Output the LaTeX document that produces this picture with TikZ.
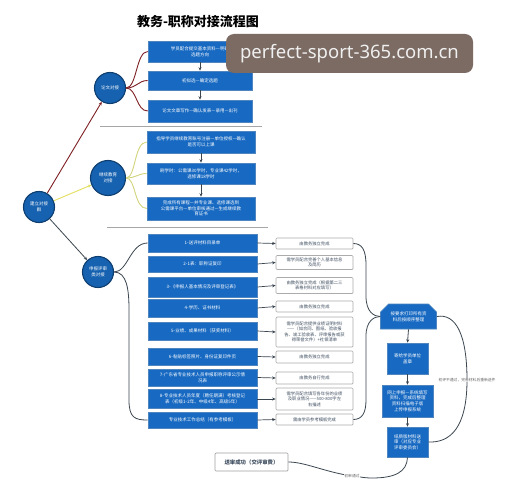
\documentclass[tikz,border=0pt]{standalone}
\usepackage{fontspec}
\setmainfont{Noto Sans CJK SC}
\newfontfamily\wmfont{Noto Sans}
\usetikzlibrary{arrows.meta,shapes.misc}
\definecolor{bblue}{HTML}{1769C2}
\definecolor{bedge}{HTML}{4F86BF}
\definecolor{cblue}{HTML}{1762B0}
\definecolor{cedge}{HTML}{0E3E70}
\definecolor{redc}{HTML}{7E2024}
\definecolor{yelc}{HTML}{E3DF5E}
\definecolor{yelg}{HTML}{D2D47C}
\definecolor{slate}{HTML}{3B4650}
\definecolor{wtext}{HTML}{3F4E60}
\definecolor{wmbg}{HTML}{7B6B63}
\begin{document}
\begin{tikzpicture}[x=1pt,y=-1pt,
  bluebox/.style={draw=bedge, line width=0.6pt, fill=bblue, text=white, align=center,
    inner sep=1pt, font=\fontsize{4.5}{5.6}\selectfont},
  whitebox/.style={draw=gray!65, line width=0.7pt, fill=white, text=wtext, align=center,
    rounded corners=1pt, inner sep=1pt, font=\fontsize{4.3}{5.4}\selectfont},
  circ/.style={circle, draw=cedge, line width=1.1pt, fill=cblue, text=white, align=center,
    inner sep=0pt, minimum size=31pt, font=\fontsize{4.5}{5.6}\selectfont},
  redline/.style={draw=redc, line width=0.9pt},
  yelline/.style={draw=yelg, line width=0.9pt},
  slateline/.style={draw=slate, line width=0.8pt},
  arr/.style={-{Stealth[length=3.5pt,width=3pt]}},
  sep/.style={draw=gray!70, line width=0.8pt},
  lbl/.style={fill=white, inner sep=0.6pt, text=gray!80!black, font=\fontsize{3.8}{4.6}\selectfont}
]
\useasboundingbox[fill=white] (0,0) rectangle (506,500);

% title
\node[font=\fontsize{13}{15}\selectfont\bfseries, text=black] (title) at (198,22) {教务-职称对接流程图};

% circles
\node[circ] (root) at (39,207) {建立对接\\群};
\node[circ] (lw) at (110,88) {论文对接};
\node[circ, minimum size=35pt] (jx) at (108,178) {继续教育\\对接};
\node[circ] (sb) at (98,272) {申报评审\\类对接};

% section 1
\node[bluebox, minimum width=104pt, minimum height=21pt, text width=96pt] (s1a) at (200,51.5) {学员配合提交基本资料—明确\\选题方向};
\node[bluebox, minimum width=104pt, minimum height=19pt, text width=96pt] (s1b) at (200,80.5) {初拟选—确定选题};
\node[bluebox, minimum width=104pt, minimum height=22pt, text width=96pt] (s1c) at (200,111) {论文文章写作—确认发表—录用—出刊};
\draw[slateline, arr] (s1a.south) -- (s1b.north);
\draw[slateline, arr] (s1b.south) -- (s1c.north);
\coordinate (sp1a) at (100,126); \coordinate (sp1b) at (262,126);
\draw[sep] (sp1a) -- (sp1b);

% section 2
\node[bluebox, minimum width=108pt, minimum height=22pt, text width=100pt] (s2a) at (201,142) {指导学员继续教育账号注册—单位授权—确认\\是否可以上课};
\node[bluebox, minimum width=108pt, minimum height=21pt, text width=100pt] (s2b) at (201,173.5) {刷学时：公需课30学时，专业课42学时，\\选修课18学时};
\node[bluebox, minimum width=108pt, minimum height=23pt, text width=100pt] (s2c) at (201,208.5) {完成所有课程—并专业课、选修课选到\\公需课平台—单位审核通过—生成继续教\\育证书};
\draw[slateline, arr] (s2a.south) -- (s2b.north);
\draw[slateline, arr] (s2b.south) -- (s2c.north);
\coordinate (sp2a) at (107,227); \coordinate (sp2b) at (268,227);
\draw[sep] (sp2a) -- (sp2b);

% section 3 left boxes
\tikzset{lbox/.style={bluebox, minimum width=109pt, text width=101pt}}
\node[lbox, minimum height=18pt] (l1) at (202.5,243) {1-送评材料目录单};
\node[lbox, minimum height=16pt] (l2) at (202.5,264) {2-1表：职称证复印};
\node[lbox, minimum height=20pt] (l3) at (202.5,287) {3-《申报人基本情况及评审登记表》};
\node[lbox, minimum height=18pt] (l4) at (202.5,308) {4-学历、证书材料};
\node[lbox, minimum height=18pt] (l5) at (202.5,331) {5-业绩、成果材料（获奖材料）};
\node[lbox, minimum height=17pt] (l6) at (202.5,356.5) {6-粘贴标签照片、身份证复印件页};
\node[lbox, minimum height=17pt] (l7) at (202.5,377.5) {7-广东省专业技术人员申报职称评审公示情\\况表};
\node[lbox, minimum height=19pt] (l8) at (202.5,399) {8-专业技术人员年度（聘任期满）考核登记\\表（初级1-2年、中级4年、高级5年）};
\node[lbox, minimum height=16pt] (l9) at (202.5,420) {专业技术工作总结（有参考模板）};

% section 3 right boxes
\tikzset{rbox/.style={whitebox, minimum width=77pt, text width=71pt}}
\node[rbox, minimum height=11pt] (r1) at (314.5,243.5) {由教务独立完成};
\node[rbox, minimum height=14pt] (r2) at (314.5,262.5) {需学员配合完善个人基本信息\\及简历};
\node[rbox, minimum height=16pt] (r3) at (314.5,285.5) {由教务独立完成（根据第二三\\表格材料对应填写）};
\node[rbox, minimum height=11pt] (r4) at (314.5,306.5) {由教务独立完成};
\node[rbox, minimum height=30pt] (r5) at (314.5,332) {需学员配合提供业绩证明材料\\——（如合同、图纸、验收报\\告、竣工验收表、评审报告或获\\得荣誉文件）+社保清单};
\node[rbox, minimum height=12pt] (r6) at (314.5,357) {由教务独立完成};
\node[rbox, minimum height=12pt] (r7) at (314.5,378) {由教务自行完成};
\node[rbox, minimum height=22pt] (r8) at (314.5,399) {需学员配合填写各年份的业绩\\及职业情况——500-800字左\\右描述};
\node[rbox, minimum height=11pt] (r9) at (314.5,419.5) {需由学员参考模板完成};

\foreach \i in {1,...,9}{\draw[slateline, line width=0.7pt, arr] (l\i.east) -- (r\i.west);}

% right flow
\node[bluebox, chamfered rectangle, chamfered rectangle corners={north west,north east},
  chamfered rectangle xsep=4pt, chamfered rectangle ysep=4pt,
  minimum width=53pt, minimum height=25pt, text width=46pt] (A) at (408.5,316.5) {按要求打印所有资\\料后按顺序整理};
\node[bluebox, minimum width=41pt, minimum height=31pt, text width=36pt] (B) at (407.5,358.5) {寄给学员单位\\盖章};
\node[bluebox, minimum width=51pt, minimum height=32pt, text width=47pt] (C) at (407.5,401) {网上申报—系统填写\\资料，完成后整理\\资料扫描电子版\\上传申报系统};
\node[bluebox, minimum width=41pt, minimum height=30pt, text width=37pt] (D) at (407.5,442) {纸质版材料送\\审（对应专业\\评审委员会）};
\draw[slateline, arr] (A.south) -- (B.north);
\draw[slateline, arr] (B.south) -- (C.north);
\draw[slateline, arr] (C.south) -- (D.north);

\node[whitebox, draw=gray!75, minimum width=73pt, minimum height=18pt, font=\fontsize{5.4}{6.5}\selectfont\bfseries, text=wtext] (ss) at (251.5,462) {送审成功（交评审费）};

% connectors from root
\draw[redline, arr] (root) -- (lw);
\draw[draw=yelc, line width=0.9pt, arr] (root) -- (jx);
\draw[slateline, arr] (root) -- (sb);

% lw curves
\draw[redline] (lw.east) .. controls (137,88) and (136,51.5) .. (s1a.west);
\draw[redline] (lw.east) .. controls (137,88) and (138,80.5) .. (s1b.west);
\draw[redline] (lw.east) .. controls (137,88) and (136,111) .. (s1c.west);

% jx curves
\draw[yelline] (jx.east) .. controls (136,178) and (134,142) .. (s2a.west);
\draw[yelline] (jx.east) .. controls (136,178) and (138,173.5) .. (s2b.west);
\draw[yelline] (jx.east) .. controls (136,178) and (134,208.5) .. (s2c.west);

% sb curves
\draw[slateline] (sb.east) .. controls (128,272) and (130,243) .. (l1.west);
\coordinate (sbv1) at (129,310); \coordinate (sbv2) at (129,400);
\draw[slateline] (sb.east) .. controls (127,272) and (129,290) .. (sbv1) -- (sbv2) .. controls (129,418) and (135,420) .. (l9.west);

% right brace
\coordinate (bt1) at (366,265); \coordinate (bt2) at (366,296);
\coordinate (bb1) at (366,400); \coordinate (bb2) at (366,336);
\draw[slateline] (r1.east) .. controls (362,243.5) and (366,250) .. (bt1) -- (bt2) .. controls (366,312) and (374,316.5) .. (A.west);
\draw[slateline] (r9.east) .. controls (362,419.5) and (366,413) .. (bb1) -- (bb2) .. controls (366,321) and (374,316.5) .. (A.west);

% loop back
\coordinate (lp) at (467,380);
\draw[slateline] (A.east) .. controls (456,313) and (467,335) .. (lp) .. controls (467,428) and (450,443) .. (D.east);
\node[lbl] (lpl) at (lp) {初评不通过，完善材料后重新送件};

% bottom connector
\coordinate (bp) at (352,476);
\draw[slateline] (D.south) .. controls (407,472) and (395,478) .. (372,478) .. controls (362,478) and (358,476) .. (bp) .. controls (325,472) and (305,462) .. (ss.east);
\node[lbl] (bpl) at (bp) {初审通过};

% watermark
\node[fill=wmbg, rounded corners=8pt, minimum width=247pt, minimum height=39pt, inner sep=0pt,
  text=white!94!black, font=\wmfont\fontsize{18.5}{20}\selectfont] (wm) at (349.5,53.5) {perfect-sport-365.com.cn};
\end{tikzpicture}
\end{document}
